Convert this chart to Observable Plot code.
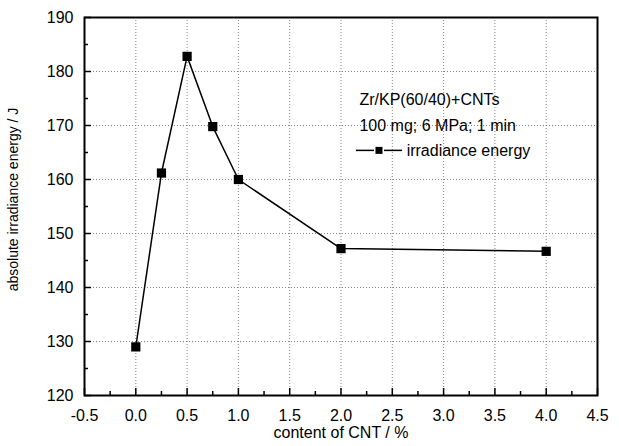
<!DOCTYPE html>
<html>
<head>
<meta charset="utf-8">
<script src="https://cdn.jsdelivr.net/npm/d3@7"></script>
<script src="https://cdn.jsdelivr.net/npm/@observablehq/plot@0.6"></script>
<style>
  html, body { margin: 0; padding: 0; background: #fff; }
  #chart svg { display: block; }
</style>
</head>
<body>
<div id="chart"></div>
<script>
const cntContent = [0, 0.25, 0.5, 0.75, 1.0, 2.0, 4.0];
const irradianceEnergy = [129.0, 161.2, 182.8, 169.8, 160.0, 147.2, 146.7];
const xTicks = [-0.5, 0, 0.5, 1, 1.5, 2, 2.5, 3, 3.5, 4, 4.5];
const xMinorTicks = [-0.25, 0.25, 0.75, 1.25, 1.75, 2.25, 2.75, 3.25, 3.75, 4.25];
const yTicks = [120, 130, 140, 150, 160, 170, 180, 190];
const yMinorTicks = [125, 135, 145, 155, 165, 175, 185];
const legendLines = ["Zr/KP(60/40)+CNTs", "100 mg; 6 MPa; 1 min"];
const legendLineY = [174.8, 170.0];
const seriesName = "irradiance energy";
const seriesY = 165.3;
const xLabel = "content of CNT / %";
const yLabel = "absolute irradiance energy / J";

const data = cntContent.map((x, i) => ({x, y: irradianceEnergy[i]}));
const font = "'Liberation Sans', Arial, sans-serif";

const chart = Plot.plot({
  width: 619,
  height: 446,
  marginLeft: 84,
  marginRight: 22,
  marginTop: 17,
  marginBottom: 51,
  style: {fontFamily: font, fontSize: "16px", color: "#000", background: "#fff"},
  x: {domain: [-0.5, 4.5]},
  y: {domain: [120, 190]},
  marks: [
    Plot.gridX(xTicks.slice(1, -1), {stroke: "#666", strokeOpacity: 0.8, strokeDasharray: "1,2", strokeWidth: 1}),
    Plot.gridY(yTicks.slice(1, -1), {stroke: "#666", strokeOpacity: 0.8, strokeDasharray: "1,2", strokeWidth: 1}),
    Plot.axisX(xTicks, {tickSize: -7, tickFormat: () => "", label: null, strokeWidth: 1.5}),
    Plot.axisX(xMinorTicks, {tickSize: -4, tickFormat: () => "", label: null, strokeWidth: 1.5}),
    Plot.axisY(yTicks, {tickSize: -7, tickFormat: () => "", label: null, strokeWidth: 1.5}),
    Plot.axisY(yMinorTicks, {tickSize: -4, tickFormat: () => "", label: null, strokeWidth: 1.5}),
    Plot.axisX(xTicks, {tickSize: 0, tickPadding: 14, tickFormat: d => d.toFixed(1), label: null, fontSize: 16}),
    Plot.axisY(yTicks, {tickSize: 0, tickPadding: 11, tickFormat: d => String(d), label: null, fontSize: 16}),
    Plot.frame({stroke: "#000", strokeWidth: 2}),
    Plot.line(data, {x: "x", y: "y", stroke: "#000", strokeWidth: 1.5}),
    Plot.dot(data, {x: "x", y: "y", symbol: "square", r: 5.2, fill: "#000", stroke: "none"}),
    Plot.text([xLabel], {frameAnchor: "bottom", dy: 42, fontSize: 16, fill: "#000"}),
    Plot.text([yLabel], {frameAnchor: "left", textAnchor: "middle", dx: -71, dy: -7, rotate: -90, fontSize: 14, fill: "#000"}),
    Plot.text(legendLines, {x: 2.18, y: (d, i) => legendLineY[i], textAnchor: "start", fontSize: 16, fill: "#000"}),
    Plot.text([seriesName], {x: 2.64, y: seriesY, textAnchor: "start", fontSize: 16, fill: "#000"})
  ]
});

// legend sample line + square (position from scales)
const sx = chart.scale("x"), sy = chart.scale("y");
const ns = "http://www.w3.org/2000/svg";
const g = document.createElementNS(ns, "g");
const ly = sy.apply(seriesY);
const x0 = sx.apply(2.15), x1 = sx.apply(2.6);
const cx = (x0 + x1) / 2;
[[x0, cx - 5], [cx + 5, x1]].forEach(([a, b]) => {
  const line = document.createElementNS(ns, "line");
  line.setAttribute("x1", a); line.setAttribute("x2", b);
  line.setAttribute("y1", ly); line.setAttribute("y2", ly);
  line.setAttribute("stroke", "#000"); line.setAttribute("stroke-width", 1.5);
  g.appendChild(line);
});
const sq = document.createElementNS(ns, "rect");
sq.setAttribute("x", cx - 3.5); sq.setAttribute("y", ly - 3.5);
sq.setAttribute("width", 7); sq.setAttribute("height", 7);
sq.setAttribute("fill", "#000");
g.appendChild(sq);
chart.appendChild(g);

document.getElementById("chart").appendChild(chart);
</script>
</body>
</html>
